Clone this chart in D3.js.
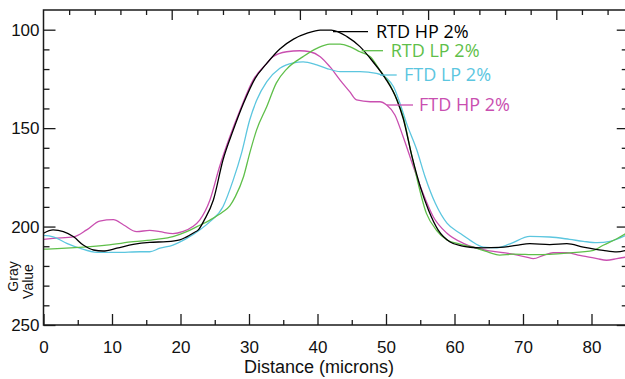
<!DOCTYPE html>
<html>
<head>
<meta charset="utf-8">
<script src="https://cdn.jsdelivr.net/npm/d3@7"></script>
<style>
  body { margin: 0; background: #fff; }
  svg { display: block; }
</style>
</head>
<body>
<div id="chart"></div>
<script>
// Gray value profiles (distance in microns, gray value)
var rtdHpDist = [0, 1.4, 2.9, 4.4, 5.8, 7.3, 8.7, 10.7, 13.1, 15.5, 18, 19.9, 20.9, 22, 22.6, 23.5, 24.8, 26.2, 27.7, 29.2, 30.9, 32.5, 34.5, 36.5, 38.5, 40.4, 42, 44.3, 46.2, 48.1, 49.9, 51.6, 52.5, 53.8, 55, 56.2, 57.6, 59.3, 61, 62.3, 64, 66.6, 69, 71, 73.9, 76.4, 78.8, 81.7, 83.7, 85];
var rtdHpGray = [203.4, 201.7, 202.6, 205.2, 209.4, 211.9, 212.4, 211, 209, 208, 207.7, 206.8, 205.2, 203, 201.7, 196.5, 186.5, 166.2, 151, 137.4, 124.7, 117.5, 109.8, 104.8, 101.8, 100.2, 100.2, 103.5, 108.6, 116.3, 124.7, 135.7, 145, 164.5, 179.7, 191.6, 201.7, 207.7, 209.8, 210.5, 210.8, 210.6, 209.6, 208.7, 209.2, 208.7, 210.4, 212.1, 212.9, 212.1];

var rtdLpDist = [0, 2, 5.8, 9.2, 13.1, 16.5, 18.9, 20.9, 22.4, 24.3, 26.2, 27.2, 28, 29.2, 30.1, 31.1, 32.6, 34, 35.5, 37.9, 39.9, 41.8, 43.3, 44.7, 46.2, 47.7, 49.1, 50.6, 51.6, 52.5, 53.8, 55.9, 57.4, 58.9, 60.8, 62.7, 64.5, 66.6, 68.6, 72, 76.4, 80.3, 81.7, 83.7, 85];
var rtdLpGray = [211.5, 211.2, 210.4, 209.4, 207.7, 206.5, 205.1, 202.6, 200, 196.7, 192.5, 189.5, 184.8, 174.7, 162.8, 151, 139, 127, 120, 113.7, 109.5, 107.3, 107.3, 108.6, 111.2, 113.7, 120.5, 128.1, 135.7, 144.2, 164.5, 193.3, 202, 206.8, 208.9, 210.5, 212.5, 214.5, 214, 214.3, 213.5, 212.1, 209.5, 206.2, 203.6];

var ftdLpDist = [0, 1.4, 3.4, 5.3, 7.8, 10.7, 14.1, 15.5, 17, 18.9, 20.9, 22.8, 24.3, 26.2, 27.7, 28.9, 30.1, 31.1, 32.6, 34.5, 36.5, 37.9, 39.9, 41.3, 43.3, 46.2, 48.6, 50.1, 51.1, 52, 53, 54.5, 55.7, 57.2, 58.9, 60.8, 62.3, 64.2, 66.2, 68.1, 71, 73.9, 76.8, 78.8, 80.8, 82.7, 85];
var ftdLpGray = [204.5, 205.2, 208.5, 211, 213.1, 213.1, 212.8, 212.8, 211, 209.4, 206, 201.7, 197.5, 189.9, 176.3, 162.8, 145.9, 136, 126.4, 119.6, 116.8, 116.3, 117.9, 119.6, 121.3, 121.3, 122.2, 124.7, 129, 137, 147.6, 161.1, 174.7, 188.2, 198.3, 203.4, 207, 210.4, 210.8, 208.8, 205, 205.3, 206.5, 207.5, 208.2, 207.5, 204.5];

var ftdHpDist = [0, 1.4, 4.4, 6.3, 8.2, 10.2, 11.7, 13.6, 15.5, 17, 18.9, 20.4, 21.8, 22.8, 24.3, 25.7, 27.2, 28.7, 30.6, 32.6, 33.5, 35.5, 37.4, 38.9, 40.4, 41.8, 43.3, 44.7, 45.7, 47.7, 49.1, 50.1, 51.3, 52.5, 54, 55.4, 56.9, 58.9, 61.3, 63.2, 64.7, 68.1, 70.5, 71.5, 73, 74.4, 76.4, 78.3, 80.8, 82.2, 83.7, 85];
var ftdHpGray = [206.5, 206, 205.2, 201.7, 197.2, 196.5, 199.2, 202.6, 201.9, 202.6, 203.6, 202.5, 200, 196.7, 186.5, 169.6, 154.4, 140.8, 125.6, 117.1, 113.7, 111.2, 110.7, 111.2, 113.7, 118.8, 125.6, 131.5, 135.7, 136.6, 136.6, 138.3, 143.3, 154.4, 169.6, 183.1, 195, 203.4, 208.5, 211, 212.1, 213.8, 215.5, 216.3, 214.6, 213.3, 213.3, 214.6, 216.3, 217.1, 216.3, 215.5];

var seriesNames = ["RTD HP 2%", "RTD LP 2%", "FTD LP 2%", "FTD HP 2%"];
var seriesColors = ["#000000", "#5fbf4a", "#5cc6df", "#c94fb0"];

var xMajorTicks = [0, 10, 20, 30, 40, 50, 60, 70, 80];
var xMinorTicks = [5, 15, 25, 35, 45, 55, 65, 75, 85];
var yMajorTicks = [100, 150, 200, 250];
var yMinorTicks = [110, 120, 130, 140, 160, 170, 180, 190, 210, 220, 230, 240];

var width = 625, height = 379;
var plotLeft = 43.5, plotTop = 10, plotRight = 625.75, plotBottom = 325;

var svg = d3.select("#chart")
  .append("svg")
  .attr("width", width)
  .attr("height", height)
  .style("font-family", "'Liberation Sans', Arial, sans-serif");

var x = d3.scaleLinear().domain([0, 85]).range([plotLeft, plotRight]);
var y = d3.scaleLinear().domain([90, 250]).range([plotTop, plotBottom]);
// top axis has its own unlabelled scale
var xTop = d3.scaleLinear().domain([0, (plotRight - plotLeft) / 128.2]).range([plotLeft, plotRight]);

svg.append("defs").append("clipPath")
  .attr("id", "plot-clip")
  .append("rect")
  .attr("x", plotLeft).attr("y", plotTop)
  .attr("width", plotRight - plotLeft).attr("height", plotBottom - plotTop);

// lines
var series = [
  { dist: rtdHpDist, gray: rtdHpGray },
  { dist: rtdLpDist, gray: rtdLpGray },
  { dist: ftdLpDist, gray: ftdLpGray },
  { dist: ftdHpDist, gray: ftdHpGray }
];

var line = d3.line()
  .x(function(d) { return x(d[0]); })
  .y(function(d) { return y(d[1]); })
  .curve(d3.curveMonotoneX);

var lineGroup = svg.append("g").attr("clip-path", "url(#plot-clip)");
// draw back to front so the black one sits on top
[3, 2, 1, 0].forEach(function(i) {
  var pts = series[i].dist.map(function(d, j) { return [d, series[i].gray[j]]; });
  lineGroup.append("path")
    .datum(pts)
    .attr("fill", "none")
    .attr("stroke", seriesColors[i])
    .attr("stroke-width", 1.3)
    .attr("d", line);
});

// axes (ticks point inward)
function styleAxis(g) {
  g.select(".domain").remove();
  g.selectAll(".tick line").attr("stroke", "#1a1a1a").attr("stroke-width", 1.3);
  g.selectAll(".tick text").attr("fill", "#111").style("font-size", "17px")
    .style("font-family", "'Liberation Sans', Arial, sans-serif");
}

svg.append("g")
  .attr("transform", "translate(0," + plotBottom + ")")
  .call(d3.axisBottom(x).tickValues(xMajorTicks).tickSize(-11).tickSizeOuter(0).tickPadding(16).tickFormat(d3.format("d")))
  .call(styleAxis);
svg.append("g")
  .attr("transform", "translate(0," + plotBottom + ")")
  .call(d3.axisBottom(x).tickValues(xMinorTicks).tickSize(-5).tickSizeOuter(0).tickFormat(""))
  .call(styleAxis);

svg.append("g")
  .attr("transform", "translate(" + plotLeft + ",0)")
  .call(d3.axisLeft(y).tickValues(yMajorTicks).tickSize(-12).tickSizeOuter(0).tickPadding(4).tickFormat(d3.format("d")))
  .call(styleAxis);
svg.append("g")
  .attr("transform", "translate(" + plotLeft + ",0)")
  .call(d3.axisLeft(y).tickValues(yMinorTicks).tickSize(-6).tickSizeOuter(0).tickFormat(""))
  .call(styleAxis);

svg.append("g")
  .attr("transform", "translate(" + plotRight + ",0)")
  .call(d3.axisRight(y).tickValues(yMajorTicks).tickSize(-9).tickSizeOuter(0).tickFormat(""))
  .call(styleAxis);
svg.append("g")
  .attr("transform", "translate(" + plotRight + ",0)")
  .call(d3.axisRight(y).tickValues(yMinorTicks).tickSize(-4).tickSizeOuter(0).tickFormat(""))
  .call(styleAxis);

svg.append("g")
  .attr("transform", "translate(0," + plotTop + ")")
  .call(d3.axisTop(xTop).tickValues(d3.range(1, 5)).tickSize(-10).tickSizeOuter(0).tickFormat(""))
  .call(styleAxis);
svg.append("g")
  .attr("transform", "translate(0," + plotTop + ")")
  .call(d3.axisTop(xTop).tickValues(d3.range(1, 23).filter(function(v) { return v % 5 !== 0; }).map(function(v) { return v / 5; })).tickSize(-5).tickSizeOuter(0).tickFormat(""))
  .call(styleAxis);

// frame
svg.append("path")
  .attr("d", "M" + plotRight + "," + plotTop + "H" + plotLeft + "V" + plotBottom + "H" + plotRight)
  .attr("fill", "none")
  .attr("stroke", "#1a1a1a")
  .attr("stroke-width", 1.5);

// axis titles
svg.append("text")
  .attr("x", 319)
  .attr("y", 373)
  .attr("text-anchor", "middle")
  .style("font-size", "18px")
  .attr("fill", "#111")
  .text("Distance (microns)");

svg.append("text")
  .attr("transform", "translate(17.5,276.5) rotate(-90)")
  .attr("text-anchor", "middle")
  .style("font-size", "14px")
  .attr("fill", "#111")
  .text("Gray");
svg.append("text")
  .attr("transform", "translate(32.5,281.5) rotate(-90)")
  .attr("text-anchor", "middle")
  .style("font-size", "14px")
  .attr("fill", "#111")
  .text("Value");

// labels with leader lines
var labelPos = [
  { x1: 333, x2: 368, ty: 31.7, tx: 376 },
  { x1: 361.7, x2: 383, ty: 50.7, tx: 390.7 },
  { x1: 380, x2: 396.7, ty: 75, tx: 404 },
  { x1: 386.7, x2: 413, ty: 105, tx: 419 }
];

labelPos.forEach(function(p, i) {
  svg.append("line")
    .attr("x1", p.x1).attr("x2", p.x2)
    .attr("y1", p.ty).attr("y2", p.ty)
    .attr("stroke", seriesColors[i])
    .attr("stroke-width", 1.3);
  svg.append("text")
    .attr("x", p.tx)
    .attr("y", p.ty + 6)
    .attr("fill", seriesColors[i])
    .style("font-family", "'Open Sans', sans-serif")
    .style("font-size", "18px")
    .text(seriesNames[i]);
});
</script>
</body>
</html>
